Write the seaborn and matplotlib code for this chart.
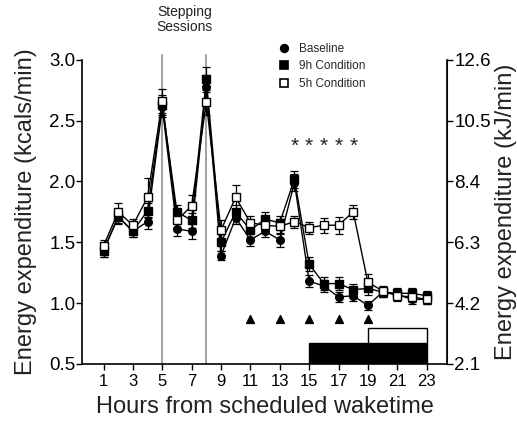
import numpy as np
import pandas as pd
import matplotlib
matplotlib.use("Agg")
import matplotlib.pyplot as plt
from matplotlib.lines import Line2D
from matplotlib.patches import Rectangle
import seaborn as sns

# hourly energy expenditure (kcal/min), mean and SEM per condition
hours = list(range(1, 24))
baseline = [1.43, 1.71, 1.59, 1.67, 2.61, 1.61, 1.59, 2.78, 1.39, 1.70, 1.52, 1.59,
            1.52, 1.99, 1.18, 1.14, 1.05, 1.06, 0.98, 1.09, 1.07, 1.03, 1.03]
nine_h = [1.43, 1.71, 1.59, 1.76, 2.63, 1.75, 1.68, 2.84, 1.50, 1.75, 1.60, 1.69,
          1.66, 2.02, 1.32, 1.16, 1.16, 1.11, 1.12, 1.09, 1.08, 1.08, 1.06]
five_h = [1.47, 1.75, 1.64, 1.87, 2.66, 1.68, 1.80, 2.65, 1.60, 1.87, 1.66, 1.64,
          1.63, 1.67, 1.62, 1.64, 1.64, 1.75, 1.17, 1.10, 1.06, 1.05, 1.03]
baseline_err = [0.05, 0.05, 0.05, 0.06, 0.08, 0.06, 0.06, 0.10, 0.04, 0.05, 0.05, 0.05,
                0.06, 0.07, 0.05, 0.05, 0.04, 0.04, 0.04, 0.04, 0.04, 0.04, 0.04]
nine_h_err = [0.05, 0.06, 0.05, 0.06, 0.08, 0.06, 0.06, 0.10, 0.07, 0.06, 0.06, 0.06,
              0.06, 0.07, 0.06, 0.05, 0.05, 0.05, 0.05, 0.04, 0.04, 0.04, 0.04]
five_h_err = [0.05, 0.07, 0.05, 0.16, 0.10, 0.06, 0.09, 0.10, 0.08, 0.10, 0.06, 0.06,
              0.06, 0.05, 0.05, 0.06, 0.07, 0.06, 0.07, 0.04, 0.04, 0.04, 0.04]

stepping_hours = [5, 8]
star_hours = [14, 15, 16, 17, 18]
triangle_hours = [11, 13, 15, 17, 19]
sleep_9h = (15, 23)
sleep_5h = (19, 23)

series = [
    ("Baseline", baseline, baseline_err, "o", "black"),
    ("9h Condition", nine_h, nine_h_err, "s", "black"),
    ("5h Condition", five_h, five_h_err, "s", "white"),
]

sns.set_style("ticks")
plt.rcParams["font.family"] = ["Liberation Sans", "DejaVu Sans"]

fig, ax = plt.subplots(figsize=(5.17, 4.28), dpi=100)
fig.subplots_adjust(left=0.159, right=0.865, bottom=0.150, top=0.860)

# stepping session markers
for h in stepping_hours:
    ax.plot([h, h], [0.5, 3.04], color="#999999", lw=1.3, clip_on=False, zorder=1)

for name, vals, errs, mk, fc in series:
    df = pd.DataFrame({"hour": hours, "kcal": vals})
    sns.lineplot(data=df, x="hour", y="kcal", ax=ax, color="black", lw=1.0,
                 marker=mk, markersize=5.5, markerfacecolor=fc,
                 markeredgecolor="black", markeredgewidth=1.0, zorder=3)
    ax.errorbar(hours, vals, yerr=errs, fmt="none", ecolor="black",
                elinewidth=0.9, capsize=3, capthick=0.9, zorder=2)

# significance marks
for h in star_hours:
    ax.text(h, 2.29, "*", ha="center", va="center", fontsize=15, color="#222222")
ax.scatter(triangle_hours, [0.87] * len(triangle_hours), marker="^", s=32,
           color="black", zorder=3)

# sleep bars
ax.add_patch(Rectangle((sleep_9h[0], 0.5), sleep_9h[1] - sleep_9h[0], 0.17,
                       facecolor="black", edgecolor="black", lw=1, zorder=2))
ax.add_patch(Rectangle((sleep_5h[0], 0.67), sleep_5h[1] - sleep_5h[0], 0.125,
                       facecolor="white", edgecolor="black", lw=1, zorder=2))

ax.text(6.5, 3.33, "Stepping\nSessions", ha="center", va="center",
        fontsize=10, color="#222222", linespacing=1.1, clip_on=False)

ax.set_xlim(-0.45, 24.4)
ax.set_ylim(0.5, 3.0)
ax.set_xticks(range(1, 24, 2))
ax.set_yticks([0.5, 1.0, 1.5, 2.0, 2.5, 3.0])
ax.set_yticklabels(["0.5", "1.0", "1.5", "2.0", "2.5", "3.0"])
ax.tick_params(axis="x", labelsize=12, length=4, width=1, colors="black")
ax.tick_params(axis="y", labelsize=13.5, length=4, width=1, pad=1, colors="black")
ax.set_xlabel("Hours from scheduled waketime", fontsize=17, color="#222222", labelpad=5)
ax.set_ylabel("Energy expenditure (kcals/min)", fontsize=17, color="#222222", labelpad=9)
for s in ["left", "bottom"]:
    ax.spines[s].set_linewidth(1.2)
    ax.spines[s].set_color("black")
ax.spines["top"].set_visible(False)

ax2 = ax.twinx()
ax2.set_ylim(2.1, 12.6)
ax2.set_yticks([2.1, 4.2, 6.3, 8.4, 10.5, 12.6])
ax2.tick_params(axis="y", labelsize=13.5, length=4, width=1, pad=1, colors="black")
ax2.set_ylabel("Energy expenditure (kJ/min)", fontsize=17, color="#222222", labelpad=3)
ax2.spines["right"].set_linewidth(1.2)
ax2.spines["right"].set_color("black")
ax2.spines["top"].set_visible(False)
ax2.spines["left"].set_visible(False)
ax2.spines["bottom"].set_visible(False)

handles = [Line2D([], [], ls="none", marker=mk, markersize=5.5, markerfacecolor=fc,
                  markeredgecolor="black", markeredgewidth=1.2)
           for _, _, _, mk, fc in series]
ax.legend(handles, [s[0] for s in series], loc="upper left",
          bbox_to_anchor=(0.52, 1.075), frameon=False, fontsize=8.5,
          handlelength=1.0, handletextpad=0.8, labelspacing=0.45, borderpad=0)

fig.savefig("out.png", dpi=100)
